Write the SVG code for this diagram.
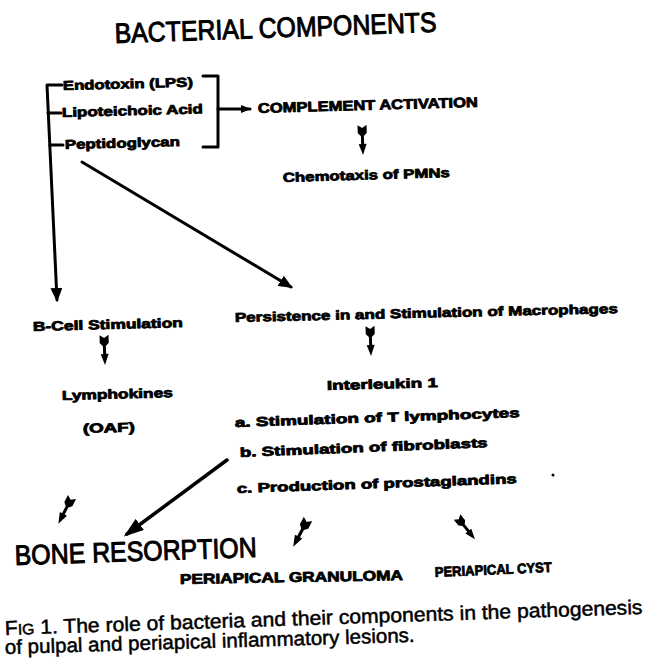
<svg xmlns="http://www.w3.org/2000/svg" xmlns:xlink="http://www.w3.org/1999/xlink" width="647" height="659" viewBox="0 0 647 659">
<style>
.lbl{font-family:"Liberation Sans",Arial,sans-serif;font-weight:bold;font-size:13px;fill:#000;stroke:#000;stroke-width:0.8;stroke-linejoin:round}
.big{font-family:"Liberation Sans",Arial,sans-serif;font-weight:normal;font-size:28px;fill:#000;stroke:#000;stroke-width:1;stroke-linejoin:round}
.cap{font-family:"Liberation Sans",Arial,sans-serif;font-weight:normal;font-size:20px;fill:#000;stroke:#000;stroke-width:0.5;stroke-linejoin:round}
.ln{stroke:#000;stroke-width:3;fill:none;stroke-linecap:round;stroke-linejoin:round}
</style>
<defs>
<marker id="ah" markerUnits="userSpaceOnUse" markerWidth="14" markerHeight="12" refX="12" refY="6" orient="auto">
<path d="M0,0 L14,6 L0,12 Z" fill="#000"/>
</marker>
<marker id="ahs" markerUnits="userSpaceOnUse" markerWidth="10" markerHeight="8" refX="9" refY="4" orient="auto">
<path d="M0,0 L10,4 L0,8 Z" fill="#000"/>
</marker>
<marker id="ahb" markerUnits="userSpaceOnUse" markerWidth="20" markerHeight="14" refX="16" refY="7" orient="auto">
<path d="M0,0 L20,7 L0,14 Z" fill="#000"/>
</marker>
<g id="fa">
<path d="M-4.5,0 L0,3 L4.5,0 L4.5,8 L1.5,11 L-1.5,11 L-4.5,8 Z" fill="#000"/>
<rect x="-1.5" y="10" width="3" height="10" fill="#000"/>
<path d="M-4,19 L4,19 L0,30 Z" fill="#000"/>
</g>
</defs>

<g id="title">
<text class="big" x="115" y="43" textLength="322" lengthAdjust="spacingAndGlyphs" transform="rotate(-2 115 43)">BACTERIAL COMPONENTS</text>
</g>

<g id="connectors">
<path class="ln" d="M62,85 L47,85 L57,300" marker-end="url(#ah)"/>
<path class="ln" d="M48,113 L61,113"/>
<path class="ln" d="M50,145 L63,145"/>
<path class="ln" d="M203,76 L218,76 L218,147 L203,147"/>
<path class="ln" d="M218,109 L250,109" marker-end="url(#ahs)"/>
<path class="ln" d="M82,162 L291,287" marker-end="url(#ah)"/>
<path class="ln" style="stroke-width:3.5" d="M227,460 L127,534" marker-end="url(#ahb)"/>
<use xlink:href="#fa" transform="translate(362 125) rotate(-2)"/>
<use xlink:href="#fa" transform="translate(104 335) rotate(-2)"/>
<use xlink:href="#fa" transform="translate(370 326) rotate(-2)"/>
<use xlink:href="#fa" transform="translate(72 497) rotate(27)"/>
<use xlink:href="#fa" transform="translate(308 519) rotate(28) scale(1.05)"/>
<use xlink:href="#fa" transform="translate(457 517) rotate(-39) scale(0.95)"/>
</g>

<g id="endotoxin"><text class="lbl" x="63" y="90" textLength="130" lengthAdjust="spacingAndGlyphs" transform="rotate(-1.5 63 90)">Endotoxin (LPS)</text></g>
<g id="lipoteichoic"><text class="lbl" x="62" y="117" textLength="141" lengthAdjust="spacingAndGlyphs" transform="rotate(-1.5 62 117)">Lipoteichoic Acid</text></g>
<g id="peptidoglycan"><text class="lbl" x="65" y="149" textLength="115" lengthAdjust="spacingAndGlyphs" transform="rotate(-1.5 65 149)">Peptidoglycan</text></g>
<g id="complement"><text class="lbl" style="font-size:14px" x="258" y="113" textLength="220" lengthAdjust="spacingAndGlyphs" transform="rotate(-1.6 258 113)">COMPLEMENT ACTIVATION</text></g>
<g id="chemotaxis"><text class="lbl" x="283" y="182" textLength="167" lengthAdjust="spacingAndGlyphs" transform="rotate(-1.7 283 182)">Chemotaxis of PMNs</text></g>
<g id="bcell"><text class="lbl" x="33" y="331" textLength="150" lengthAdjust="spacingAndGlyphs" transform="rotate(-1.5 33 331)">B-Cell Stimulation</text></g>
<g id="lymphokines">
<text class="lbl" x="62" y="400" textLength="111" lengthAdjust="spacingAndGlyphs" transform="rotate(-1.5 62 400)">Lymphokines</text>
<text class="lbl" x="83" y="433" textLength="52" lengthAdjust="spacingAndGlyphs" transform="rotate(-1.5 83 433)">(OAF)</text>
</g>
<g id="persistence"><text class="lbl" x="235" y="322" textLength="383" lengthAdjust="spacingAndGlyphs" transform="rotate(-1.35 235 322)">Persistence in and Stimulation of Macrophages</text></g>
<g id="interleukin">
<text class="lbl" x="327" y="390" textLength="111" lengthAdjust="spacingAndGlyphs" transform="rotate(-1.5 327 390)">Interleukin 1</text>
<text class="lbl" x="235" y="427" textLength="285" lengthAdjust="spacingAndGlyphs" transform="rotate(-2 235 427)">a. Stimulation of T lymphocytes</text>
<text class="lbl" x="240" y="457" textLength="248" lengthAdjust="spacingAndGlyphs" transform="rotate(-2.3 240 457)">b. Stimulation of fibroblasts</text>
<text class="lbl" x="237" y="493" textLength="280" lengthAdjust="spacingAndGlyphs" transform="rotate(-2 237 493)">c. Production of prostaglandins</text>
</g>
<circle cx="553" cy="475" r="1.5" fill="#000"/>
<g id="bone"><text class="big" x="15" y="565" textLength="242" lengthAdjust="spacingAndGlyphs" transform="rotate(-1.9 15 565)">BONE RESORPTION</text></g>
<g id="granuloma"><text class="lbl" style="font-size:14px" x="180" y="584" textLength="223" lengthAdjust="spacingAndGlyphs" transform="rotate(-1 180 584)">PERIAPICAL GRANULOMA</text></g>
<g id="cyst"><text class="lbl" style="font-size:14px" x="435" y="577" textLength="117" lengthAdjust="spacingAndGlyphs" transform="rotate(-2.5 435 577)">PERIAPICAL CYST</text></g>

<g id="caption">
<text class="cap" x="5" y="635" textLength="638" lengthAdjust="spacingAndGlyphs" transform="rotate(-1.9 5 635)">F<tspan style="font-size:15px">IG</tspan> 1. The role of bacteria and their components in the pathogenesis</text>
<text class="cap" x="5" y="654" textLength="410" lengthAdjust="spacingAndGlyphs" transform="rotate(-1.7 5 654)">of pulpal and periapical inflammatory lesions.</text>
</g>
</svg>
